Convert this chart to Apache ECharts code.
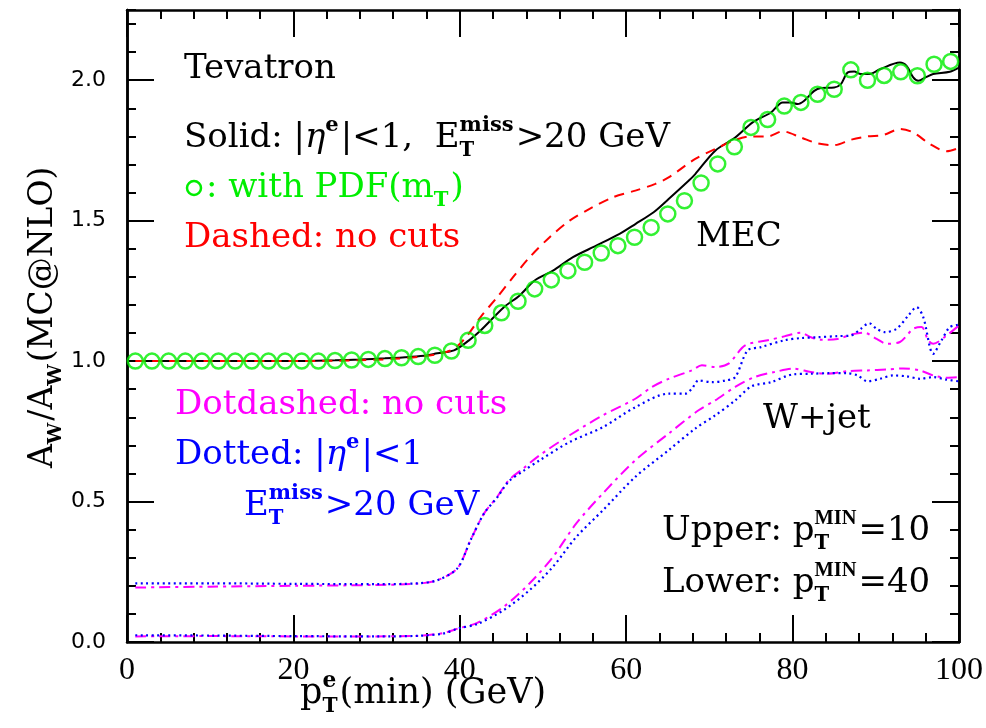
<!DOCTYPE html>
<html>
<head>
<meta charset="utf-8">
<script src="https://cdn.jsdelivr.net/npm/echarts@6/dist/echarts.min.js"></script>
<style>
  html, body { margin: 0; padding: 0; background: #fff; }
  #chart { width: 986px; height: 728px; }
</style>
</head>
<body>
<div id="chart"></div>
<script>
// ---- data: x = p_T^e(min) in GeV, y = A_W / A_W(MC@NLO) ----

// MEC, |eta^e|<1 and E_T^miss>20 GeV (solid black)
const mecCutX = [1, 5, 10, 15, 20, 25, 28, 31, 34, 36, 37.3, 39.3, 41.1, 42.5, 45.3, 47.2, 49, 51.2, 53.6, 56.4, 59.2, 61.1, 63.3, 65.1, 67.5, 68.3, 70.7, 73.1, 75.2, 77.4, 78.8, 79.8, 80.6, 81.4, 82.6, 83.4, 85, 85.8, 86.6, 87.4, 88.2, 89.2, 90.5, 92.9, 93.7, 94.5, 95.1, 96.1, 96.9, 98.9, 100];
const mecCutY = [1.0, 1.0, 1.0, 1.0, 1.0, 1.003, 1.006, 1.01, 1.015, 1.02, 1.028, 1.038, 1.074, 1.109, 1.192, 1.234, 1.287, 1.322, 1.37, 1.411, 1.453, 1.488, 1.53, 1.577, 1.642, 1.666, 1.749, 1.796, 1.85, 1.885, 1.921, 1.921, 1.915, 1.927, 1.962, 1.972, 1.974, 1.986, 2.027, 2.031, 2.022, 2.022, 2.039, 2.063, 2.051, 2.01, 1.998, 2.012, 2.022, 2.03, 2.045];

// MEC, no cuts (dashed red)
const mecNoCutX = [1, 10, 20, 28, 32, 35, 37.3, 39.3, 40.9, 42.5, 44.5, 46.4, 48.4, 50.8, 53.2, 55.6, 58.4, 61.1, 63.5, 65.1, 68.3, 70.7, 73.1, 75, 77, 78.8, 81, 83, 85, 87, 89, 90.9, 92.9, 94.5, 96.5, 98.5, 100];
const mecNoCutY = [1.0, 1.0, 1.0, 1.003, 1.008, 1.015, 1.025, 1.044, 1.091, 1.157, 1.228, 1.299, 1.37, 1.441, 1.5, 1.542, 1.583, 1.607, 1.631, 1.654, 1.72, 1.755, 1.787, 1.8, 1.8, 1.818, 1.796, 1.775, 1.769, 1.788, 1.8, 1.805, 1.826, 1.814, 1.773, 1.747, 1.759];

// MEC with cuts, PDF(m_T) (open green circles)
const pdfX = [1, 3, 5, 7, 9, 11, 13, 15, 17, 19, 21, 23, 25, 27, 29, 31, 33, 35, 37, 39, 41, 43, 45, 47, 49, 51, 53, 55, 57, 59, 61, 63, 65, 67, 69, 71, 73, 75, 77, 79, 81, 83, 85, 87, 89, 91, 93, 95, 97, 99];
const pdfY = [1.0, 1.0, 1.0, 1.0, 1.0, 1.0, 1.0, 1.0, 1.0, 1.0, 1.0, 1.0, 1.002, 1.004, 1.006, 1.009, 1.012, 1.016, 1.021, 1.036, 1.074, 1.127, 1.172, 1.213, 1.257, 1.289, 1.322, 1.352, 1.385, 1.411, 1.441, 1.476, 1.524, 1.571, 1.634, 1.702, 1.763, 1.832, 1.86, 1.908, 1.921, 1.95, 1.968, 2.037, 2.0, 2.017, 2.03, 2.016, 2.057, 2.067];

// W+jet, p_T^MIN = 10, no cuts (dot-dashed magenta)
const wj10NoCutX = [1, 10, 20, 30, 35, 37.3, 39.7, 41.3, 42.9, 44.5, 45.9, 47.6, 49.6, 53.2, 57.2, 61.1, 63.1, 65.1, 67.9, 69.1, 70.7, 72.3, 74.3, 77, 79, 81, 82.2, 83.4, 85.4, 87.4, 88.6, 90.1, 91.3, 92.9, 94.5, 95.5, 96.3, 96.9, 98.5, 100];
const wj10NoCutY = [0.194, 0.197, 0.2, 0.203, 0.208, 0.22, 0.262, 0.363, 0.457, 0.517, 0.576, 0.617, 0.665, 0.736, 0.807, 0.866, 0.908, 0.937, 0.967, 0.985, 0.979, 0.991, 1.056, 1.074, 1.088, 1.101, 1.085, 1.076, 1.079, 1.097, 1.101, 1.079, 1.062, 1.068, 1.115, 1.121, 1.074, 1.062, 1.091, 1.127];

// W+jet, p_T^MIN = 10, with cuts (dotted blue)
const wj10CutX = [1, 10, 20, 30, 35, 37.3, 39.7, 41.3, 42.9, 44.5, 45.9, 47.6, 49.6, 53.2, 57.2, 61.1, 65.1, 67.1, 67.9, 68.7, 70.3, 71.9, 73.1, 74.6, 76.2, 79, 81, 83, 85.4, 87, 88.2, 89.2, 90.1, 91.1, 92.5, 93.9, 94.9, 95.7, 96.9, 97.9, 98.9, 100];
const wj10CutY = [0.209, 0.209, 0.207, 0.206, 0.209, 0.22, 0.262, 0.363, 0.457, 0.515, 0.572, 0.608, 0.647, 0.712, 0.765, 0.836, 0.884, 0.884, 0.902, 0.931, 0.925, 0.931, 0.943, 1.038, 1.05, 1.074, 1.082, 1.085, 1.089, 1.091, 1.115, 1.135, 1.115, 1.103, 1.115, 1.162, 1.192, 1.157, 1.026, 1.074, 1.121, 1.13];

// W+jet, p_T^MIN = 40, no cuts (dot-dashed magenta)
const wj40NoCutX = [1, 10, 20, 30, 35, 38, 39.9, 42.1, 45.3, 48.4, 51.2, 54, 57.2, 61.1, 65.1, 68.7, 70.7, 73.1, 75.4, 77.8, 80.1, 82.2, 84.2, 86.6, 89, 91.3, 93.3, 95.3, 96.9, 98.5, 100];
const wj40NoCutY = [0.02, 0.021, 0.02, 0.02, 0.022, 0.032, 0.049, 0.068, 0.126, 0.209, 0.303, 0.422, 0.529, 0.647, 0.742, 0.825, 0.86, 0.908, 0.943, 0.961, 0.973, 0.961, 0.955, 0.964, 0.967, 0.97, 0.974, 0.967, 0.949, 0.941, 0.943];

// W+jet, p_T^MIN = 40, with cuts (dotted blue)
const wj40CutX = [1, 10, 20, 30, 35, 38, 39.9, 42.1, 45.3, 48.4, 51.2, 54, 57.2, 61.1, 65.1, 68.3, 70.7, 73.1, 75.05, 77.4, 80.1, 82.2, 84.2, 86.6, 87.8, 89, 90.5, 92.1, 93.7, 95.3, 96.9, 98.5, 100];
const wj40CutY = [0.024, 0.023, 0.021, 0.02, 0.022, 0.03, 0.049, 0.064, 0.114, 0.185, 0.268, 0.374, 0.469, 0.588, 0.683, 0.76, 0.807, 0.86, 0.91, 0.925, 0.953, 0.955, 0.957, 0.957, 0.949, 0.928, 0.937, 0.949, 0.946, 0.937, 0.943, 0.934, 0.928];

// axis ranges and tick labels
const xMin = 0, xMax = 100, xStep = 20;
const yMin = 0, yMax = 2.25, yStep = 0.5, yMinorStep = 0.1;
const xTickLabels = ['0', '20', '40', '60', '80', '100'];
const yTickLabels = ['0.0', '0.5', '1.0', '1.5', '2.0'];

const pairs = (xs, ys) => xs.map((x, i) => [x, ys[i]]);

// ---- text layout helpers (sub/superscripts) ----
const SERIF = '"DejaVu Serif"';
const measureCtx = document.createElement('canvas').getContext('2d');
function measure(text, style, weight, size, family) {
  measureCtx.font = `${style} ${weight} ${size}px ${family}`;
  return measureCtx.measureText(text).width;
}
function textEl(t, x, base, size, color, opt) {
  opt = opt || {};
  const fontStyle = opt.italic ? 'italic' : 'normal';
  const fontWeight = opt.bold ? 'bold' : 'normal';
  const family = opt.family || SERIF;
  return {
    el: {
      type: 'text', x: x, y: base - 0.34 * size, silent: true,
      style: {
        text: t, fill: color, fontSize: size, fontFamily: family,
        fontStyle: fontStyle, fontWeight: fontWeight,
        align: 'left', verticalAlign: 'middle',
        textAlign: 'left', textVerticalAlign: 'middle'
      }
    },
    w: measure(t, fontStyle, fontWeight, size, family)
  };
}
// parts: plain strings, {it: 'x'} italic, {sup, sub} stacked scripts
function mathLine(x0, base, size, color, parts) {
  const out = [];
  let cx = x0;
  parts.forEach(p => {
    if (typeof p === 'string') {
      const r = textEl(p, cx, base, size, color);
      out.push(r.el); cx += r.w;
    } else if (p.it) {
      const r = textEl(p.it, cx, base, size, color, { italic: true });
      out.push(r.el); cx += r.w;
    } else {
      let w = 0;
      if (p.sup) {
        const r = textEl(p.sup, cx + (p.supDx || 0), base - 0.5 * size, size * (p.supScale || 0.62), color,
          { bold: true, family: p.supFamily });
        out.push(r.el); w = Math.max(w, r.w + (p.supDx || 0));
      }
      if (p.sub) {
        const r = textEl(p.sub, cx, base + 0.22 * size, size * 0.58, color, { bold: true });
        out.push(r.el); w = Math.max(w, r.w);
      }
      cx += w + 2;
    }
  });
  return out;
}

const BLACK = '#000000', GREEN = '#00ee00', RED = '#ff0000', MAGENTA = '#ff00ff', BLUE = '#0000ff';
const TS = 34;

const graphics = [].concat(
  mathLine(184, 81, TS, BLACK, ['Tevatron']),
  mathLine(184, 150, TS, BLACK, ['Solid: |', { it: 'η' }, { sup: 'e' }, '|<1,  E', { sup: 'miss', sub: 'T' }, '>20 GeV']),
  [{ type: 'circle', silent: true, shape: { cx: 194, cy: 188, r: 7 }, style: { fill: 'none', stroke: GREEN, lineWidth: 2.5 } }],
  mathLine(206, 200, TS, GREEN, [': with PDF(m', { sub: 'T' }, ')']),
  mathLine(184, 250, TS, RED, ['Dashed: no cuts']),
  mathLine(696, 249, TS, BLACK, ['MEC']),
  mathLine(175, 417, TS, MAGENTA, ['Dotdashed: no cuts']),
  mathLine(175, 467, TS, BLUE, ['Dotted: |', { it: 'η' }, { sup: 'e' }, '|<1']),
  mathLine(244, 518, TS, BLUE, ['E', { sup: 'miss', sub: 'T' }, '>20 GeV']),
  mathLine(763, 431, TS, BLACK, ['W+jet']),
  mathLine(662, 543, TS, BLACK, ['Upper: p', { sup: 'MIN', sub: 'T', supFamily: '"Liberation Serif"', supScale: 0.6 }, '=10']),
  mathLine(662, 595, TS, BLACK, ['Lower: p', { sup: 'MIN', sub: 'T', supFamily: '"Liberation Serif"', supScale: 0.6 }, '=40']),
  mathLine(300, 706, 35, BLACK, ['p', { sup: 'e', sub: 'T' }, '(min) (GeV)']),
  [{
    type: 'group', x: 55, y: 468, rotation: Math.PI / 2, silent: true,
    children: mathLine(0, 0, 33, BLACK, ['A', { sub: 'W' }, '/A', { sub: 'W' }, '(MC@NLO)'])
  }]
);

// ---- axes: frame with inward ticks on all four sides ----
const frameLine = { show: true, onZero: false, lineStyle: { color: BLACK, width: 2.5 } };
function xAxisDef(pos, showLabels) {
  return {
    type: 'value', position: pos, min: xMin, max: xMax, interval: xStep,
    axisLine: frameLine,
    axisTick: { show: true, inside: true, length: 27, lineStyle: { color: BLACK, width: 2 } },
    minorTick: { show: true, splitNumber: 5, length: 9, lineStyle: { color: BLACK, width: 2 } },
    splitLine: { show: false }, minorSplitLine: { show: false },
    axisLabel: {
      show: showLabels, margin: 13, color: BLACK, fontSize: 32, fontFamily: '"Liberation Serif"',
      formatter: v => xTickLabels[Math.round((v - xMin) / xStep)]
    }
  };
}
function yAxisDef(pos, step, tickLen, showLabels) {
  return {
    type: 'value', position: pos, min: yMin, max: yMax, interval: step,
    axisLine: frameLine,
    axisTick: { show: true, inside: true, length: tickLen, lineStyle: { color: BLACK, width: 2 } },
    splitLine: { show: false },
    axisLabel: {
      show: showLabels, showMaxLabel: false, margin: 21, color: BLACK, fontSize: 22,
      fontFamily: '"DejaVu Sans"',
      formatter: v => yTickLabels[Math.round((v - yMin) / yStep)] || ''
    }
  };
}

const lineBase = { type: 'line', xAxisIndex: 0, yAxisIndex: 0, showSymbol: false, smooth: 0.3, animation: false, z: 3 };

const option = {
  animation: false,
  backgroundColor: '#ffffff',
  grid: { left: 127, right: 20, top: 10, bottom: 86, containLabel: false },
  xAxis: [xAxisDef('bottom', true), xAxisDef('top', false)],
  yAxis: [
    yAxisDef('left', yStep, 27, true),
    yAxisDef('left', yMinorStep, 9, false),
    yAxisDef('right', yStep, 27, false),
    yAxisDef('right', yMinorStep, 9, false)
  ],
  series: [
    Object.assign({}, lineBase, { name: 'MEC cuts', data: pairs(mecCutX, mecCutY), lineStyle: { color: BLACK, width: 2 } }),
    Object.assign({}, lineBase, { name: 'MEC no cuts', data: pairs(mecNoCutX, mecNoCutY), lineStyle: { color: RED, width: 2, type: [10, 7] } }),
    {
      type: 'scatter', name: 'PDF(mT)', xAxisIndex: 0, yAxisIndex: 0, data: pairs(pdfX, pdfY),
      symbol: 'circle', symbolSize: 15, z: 4,
      itemStyle: { color: 'rgba(0,0,0,0)', borderColor: GREEN, borderWidth: 2.5 }
    },
    Object.assign({}, lineBase, { name: 'W+jet 10 no cuts', data: pairs(wj10NoCutX, wj10NoCutY), lineStyle: { color: MAGENTA, width: 2, type: [11, 5, 3, 5] } }),
    Object.assign({}, lineBase, { name: 'W+jet 10 cuts', data: pairs(wj10CutX, wj10CutY), lineStyle: { color: BLUE, width: 2.2, type: [2, 3.5] } }),
    Object.assign({}, lineBase, { name: 'W+jet 40 no cuts', data: pairs(wj40NoCutX, wj40NoCutY), lineStyle: { color: MAGENTA, width: 2, type: [11, 5, 3, 5] } }),
    Object.assign({}, lineBase, { name: 'W+jet 40 cuts', data: pairs(wj40CutX, wj40CutY), lineStyle: { color: BLUE, width: 2.2, type: [2, 3.5] } })
  ],
  graphic: { elements: graphics }
};

const chart = echarts.init(document.getElementById('chart'), null, { renderer: 'canvas' });
chart.setOption(option);
</script>
</body>
</html>
